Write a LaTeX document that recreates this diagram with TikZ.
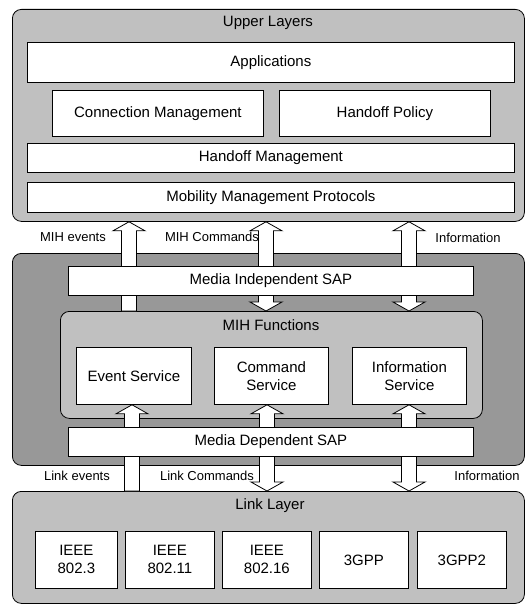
\documentclass[tikz,border=0pt]{standalone}
\usepackage{fontspec}
\setmainfont{Liberation Sans}
\usetikzlibrary{calc}
\definecolor{layergray}{RGB}{192,192,192}
\definecolor{coregray}{RGB}{152,152,152}
\tikzset{
  layer/.style={draw, line width=0.8pt, rounded corners=9, anchor=north west, inner sep=0},
  entity/.style={draw, line width=0.8pt, fill=white, anchor=north west, inner sep=0, align=center,
    font=\fontsize{15}{18}\selectfont},
  title/.style={font=\fontsize{15}{18}\selectfont},
  note/.style={font=\fontsize{13}{15}\selectfont},
  blockarrow/.style={draw, line width=0.8pt, fill=white}
}
% #1 = x, #2 = tip anchor, #3 = base anchor
\newcommand{\uparr}[3]{%
  \path (#1,0 |- #2) coordinate (tip) (#1,0 |- #3) coordinate (base);
  \filldraw[blockarrow] ($(base)+(-7.5,0)$) -- ($(tip)+(-7.5,9)$) -- ($(tip)+(-16,9)$) -- (tip)
    -- ($(tip)+(16,9)$) -- ($(tip)+(7.5,9)$) -- ($(base)+(7.5,0)$) -- cycle;}
\newcommand{\duparr}[3]{%
  \path (#1,0 |- #2) coordinate (tip) (#1,0 |- #3) coordinate (base);
  \filldraw[blockarrow] ($(base)+(-7.5,-9)$) -- ($(tip)+(-7.5,9)$) -- ($(tip)+(-16,9)$) -- (tip)
    -- ($(tip)+(16,9)$) -- ($(tip)+(7.5,9)$) -- ($(base)+(7.5,-9)$) -- ($(base)+(16,-9)$)
    -- (base) -- ($(base)+(-16,-9)$) -- cycle;}

\begin{document}
\begin{tikzpicture}[x=1pt, y=-1pt]
\useasboundingbox (0,0) rectangle (526,604);
% layers
\node[layer, fill=layergray, minimum width=512, minimum height=212] (upper) at (12,9) {};
\node[layer, fill=coregray, minimum width=512, minimum height=212] (core) at (12,253) {};
\node[layer, fill=layergray, minimum width=512, minimum height=112] (link) at (12,491) {};
\node[layer, fill=layergray, minimum width=422, minimum height=107] (funcs) at (60,311) {};
\node[title] (uppertitle) at (268,23) {Upper Layers};
\node[title] (functitle) at (271,325) {MIH Functions};
\node[title] (linktitle) at (270,506) {Link Layer};
% upper layers
\node[entity, minimum width=487, minimum height=40] (apps) at (27,42) {Applications};
\node[entity, minimum width=211, minimum height=46] (conn) at (52,90) {Connection Management};
\node[entity, minimum width=211, minimum height=46] (policy) at (279,90) {Handoff Policy};
\node[entity, minimum width=487, minimum height=29] (handoff) at (27,143) {Handoff Management};
\node[entity, minimum width=487, minimum height=30] (mobility) at (27,182) {Mobility Management Protocols};
% arrows
\uparr{129}{upper.south}{funcs.north}
\duparr{266}{upper.south}{funcs.north}
\duparr{409}{upper.south}{funcs.north}
% services
\node[entity, minimum width=115, minimum height=57] (evt) at (76,347) {Event Service};
\node[entity, minimum width=114, minimum height=57] (cmd) at (214,347) {Command\\Service};
\node[entity, minimum width=114, minimum height=57] (info) at (352,347) {Information\\Service};
\uparr{132}{evt.south}{link.north}
\duparr{267}{cmd.south}{link.north}
\duparr{409}{info.south}{link.north}
% SAPs
\node[entity, minimum width=405, minimum height=29] (misap) at (68,266) {Media Independent SAP};
\node[entity, minimum width=405, minimum height=29] (mdsap) at (68,427) {Media Dependent SAP};
% link technologies
\node[entity, minimum width=82, minimum height=57] (eth) at (35,531) {IEEE\\802.3};
\node[entity, minimum width=89, minimum height=57] (wifi) at (125,531) {IEEE\\802.11};
\node[entity, minimum width=89, minimum height=57] (wimax) at (222,531) {IEEE\\802.16};
\node[entity, minimum width=89, minimum height=57] (gpp) at (319,531) {3GPP};
\node[entity, minimum width=89, minimum height=57] (gpptwo) at (417,531) {3GPP2};
% labels
\node[note] (mihevt) at (73,237) {MIH events};
\node[note] (mihcmd) at (212,237) {MIH Commands};
\node[note] (mihinfo) at (468,238) {Information};
\node[note] (lnkevt) at (77,476) {Link events};
\node[note] (lnkcmd) at (207,476) {Link Commands};
\node[note] (lnkinfo) at (487,476) {Information};
\end{tikzpicture}
\end{document}
